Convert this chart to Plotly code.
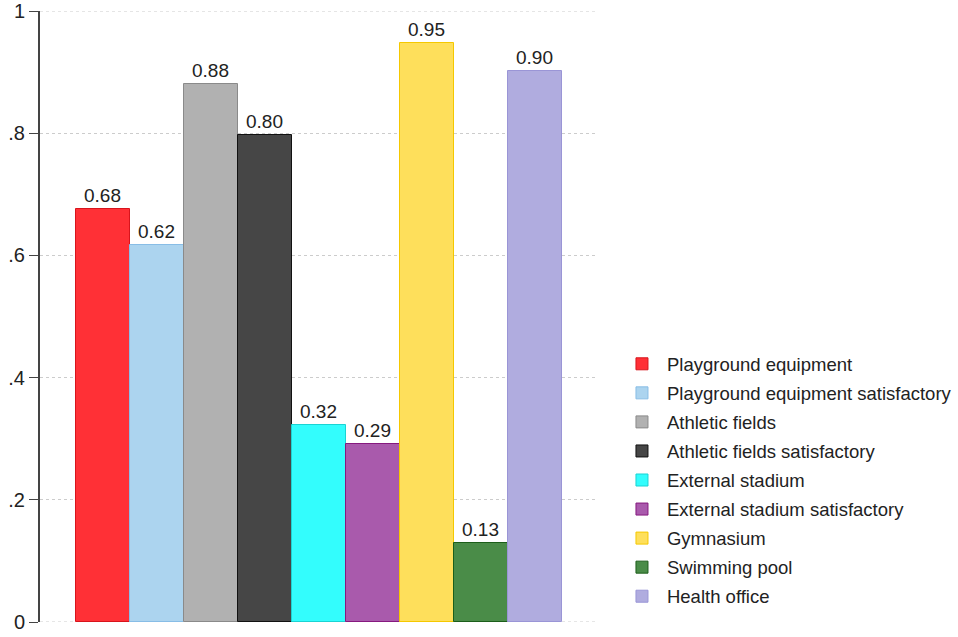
import plotly.graph_objects as go

categories = ["Playground equipment", "Playground equipment satisfactory", "Athletic fields",
              "Athletic fields satisfactory", "External stadium", "External stadium satisfactory",
              "Gymnasium", "Swimming pool", "Health office"]
values = [0.676, 0.617, 0.880, 0.797, 0.322, 0.291, 0.948, 0.129, 0.901]
fills = ["#ff3036", "#acd4ef", "#b1b1b1", "#464646", "#33fdfd", "#a95aac", "#fedf5b", "#4a8c48", "#b0acdf"]
edges = ["#d8141c", "#88bde6", "#8a8a8a", "#111111", "#1bd3d3", "#86197f", "#f5c800", "#1c5e1a", "#9a95d6"]
yticks = [0, 0.2, 0.4, 0.6, 0.8, 1]
yticklabels = ["0", ".2", ".4", ".6", ".8", "1"]

font = "Liberation Sans, Arial, sans-serif"
fig = go.Figure()
for i, (name, v) in enumerate(zip(categories, values)):
    fig.add_trace(go.Bar(
        x=[i], y=[v], name=name, width=1,
        marker=dict(color=fills[i], line=dict(color=edges[i], width=1)),
        text=[v], texttemplate="%{y:.2f}", textposition="outside",
        textfont=dict(family=font, size=19, color="#222222"),
        cliponaxis=False, legendgroup=name,
    ))

# gridlines at the range ends (plotly omits them at the edges)
for yv in (yticks[0], yticks[-1]):
    fig.add_shape(type="line", xref="paper", yref="y", x0=0, x1=1, y0=yv, y1=yv,
                  line=dict(color="#cccccc", width=1, dash="dot"), layer="below")

fig.update_layout(
    width=958, height=637,
    margin=dict(l=40, r=360, t=11, b=15, autoexpand=False),
    plot_bgcolor="white", paper_bgcolor="white",
    bargap=0, showlegend=True,
    font=dict(family=font, color="#222222"),
    xaxis=dict(range=[-1.167, 9.167], showticklabels=False, showgrid=False,
               zeroline=False, showline=False, ticks="", automargin=False),
    yaxis=dict(range=[0, 1], tickvals=yticks, ticktext=yticklabels, automargin=False,
               ticklabeloverflow="allow",
               showgrid=True, gridcolor="#cccccc", griddash="dot", gridwidth=1,
               zeroline=False, showline=True, linecolor="#444444", linewidth=2,
               ticks="outside", ticklen=9, tickcolor="#444444", tickwidth=1,
               tickfont=dict(size=20, color="#222222")),
    legend=dict(x=1.034, xanchor="left", y=0.011, yanchor="bottom",
                font=dict(size=18.5, color="#222222"), tracegroupgap=2,
                traceorder="grouped", itemwidth=40),
)
fig.write_html("out.html", config={"displayModeBar": False},
               post_script="document.body.style.margin='0';document.body.style.overflow='hidden';")
